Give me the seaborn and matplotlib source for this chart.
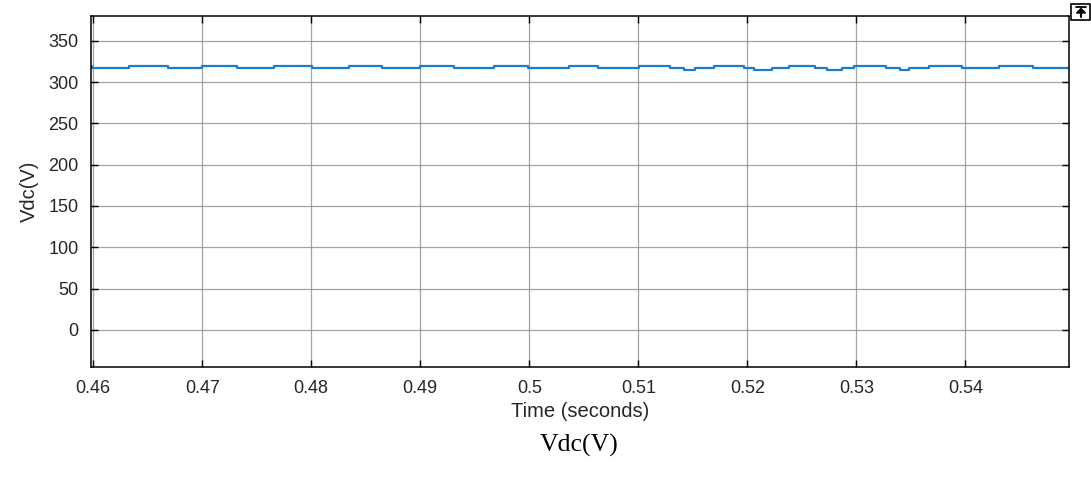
import numpy as np
import pandas as pd
import matplotlib
matplotlib.use("Agg")
import matplotlib.pyplot as plt
import seaborn as sns
from matplotlib.patches import Rectangle, Polygon
from matplotlib.lines import Line2D

# DC-link voltage: switching instants (s) and the level held from each instant (V)
switch_times = [0.45972, 0.45991, 0.46333, 0.46682, 0.46997, 0.47318, 0.47661,
                0.48006, 0.48342, 0.48649, 0.48994, 0.49312, 0.49672, 0.49988,
                0.50361, 0.50633, 0.51003, 0.51294, 0.51416, 0.51523, 0.51697,
                0.51966, 0.52058, 0.52227, 0.52379, 0.52624, 0.52731, 0.52869,
                0.52975, 0.53275, 0.53404, 0.53480, 0.53663, 0.53970, 0.54306,
                0.54624, 0.54960]
vdc_levels = [319.0, 316.5, 319.0, 316.5, 319.0, 316.5, 319.0,
              316.5, 319.0, 316.5, 319.0, 316.5, 319.0, 316.5,
              319.0, 316.5, 319.0, 316.5, 314.0, 316.5, 319.0,
              316.5, 314.0, 316.5, 319.0, 316.5, 314.0, 316.5,
              319.0, 316.5, 314.0, 316.5, 319.0, 316.5, 319.0,
              316.5, 316.5]

x_ticks = [0.46, 0.47, 0.48, 0.49, 0.50, 0.51, 0.52, 0.53, 0.54]
x_tick_labels = ["0.46", "0.47", "0.48", "0.49", "0.5", "0.51", "0.52", "0.53", "0.54"]
y_ticks = [0, 50, 100, 150, 200, 250, 300, 350]

df = pd.DataFrame({"t": switch_times, "vdc": vdc_levels})

sns.set_theme(style="white")
plt.rcParams["font.family"] = ["Liberation Sans", "DejaVu Sans"]

fig = plt.figure(figsize=(10.91, 4.84), dpi=100)
ax = fig.add_axes([0.0834, 0.2417, 0.8964, 0.7253])

sns.lineplot(data=df, x="t", y="vdc", ax=ax, estimator=None, sort=True,
             color="#1f7cc4", linewidth=1.6, drawstyle="steps-post")

ax.set_xlim(0.4598, 0.5495)
ax.set_ylim(-45, 380)
ax.set_xticks(x_ticks)
ax.set_xticklabels(x_tick_labels)
ax.set_yticks(y_ticks)

ax.grid(True, color="#8c8c8c", linewidth=0.9, alpha=0.8)
ax.set_axisbelow(True)
for s in ax.spines.values():
    s.set_visible(True)
    s.set_color("black")
    s.set_linewidth(1.1)

ax.tick_params(axis="both", which="both", direction="in", length=5, width=1,
               top=True, right=True, bottom=True, left=True,
               labelsize=13, colors="black", pad=9)
for lab in ax.get_xticklabels() + ax.get_yticklabels():
    lab.set_color("#262626")

ax.set_xlabel("Time (seconds)", fontsize=14.5, color="#262626", labelpad=4)
ax.set_ylabel("Vdc(V)", fontsize=14.5, color="#262626", labelpad=7)

# caption under the scope panel
fig.text(0.531, 0.08, "Vdc(V)", ha="center", va="center",
         fontsize=18.5, family=["Liberation Serif", "DejaVu Serif"], color="black")

# small scope toolbar icon (arrow-to-bar) in the top-right corner
x0, x1 = 1071 / 1091, 1091 / 1091
y0, y1 = 1 - 20 / 484, 1 - 4 / 484
fig.add_artist(Rectangle((x0, y0), x1 - x0 - 0.0005, y1 - y0,
                         transform=fig.transFigure, fill=False,
                         edgecolor="black", linewidth=1.2))
cx = 1081 / 1091
fig.add_artist(Line2D([1076 / 1091, 1086 / 1091], [1 - 7 / 484, 1 - 7 / 484],
                      transform=fig.transFigure, color="black", linewidth=1.3))
fig.add_artist(Line2D([cx, cx], [1 - 17 / 484, 1 - 10 / 484],
                      transform=fig.transFigure, color="black", linewidth=1.5))
fig.add_artist(Polygon([[1076.5 / 1091, 1 - 13 / 484], [1085.5 / 1091, 1 - 13 / 484],
                        [cx, 1 - 8.5 / 484]], closed=True,
                       transform=fig.transFigure, color="black"))

fig.savefig("out.png", dpi=100)
